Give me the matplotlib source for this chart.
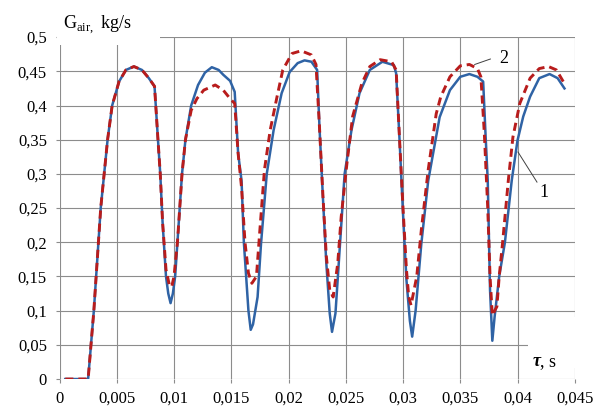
import matplotlib.pyplot as plt
from matplotlib.patches import Rectangle

# curve 1 (solid blue)
t1 = [0.0005, 0.0025, 0.0030, 0.0036, 0.0042, 0.0046, 0.0052, 0.0058, 0.0065, 0.0072, 0.0078,
      0.0083, 0.0086, 0.0088, 0.0090, 0.0093, 0.0095, 0.0097, 0.0099, 0.0101, 0.0103, 0.0105,
      0.0107, 0.0110, 0.0115, 0.0121, 0.0127, 0.0133, 0.0139, 0.0143, 0.0149, 0.0153, 0.0156,
      0.0159, 0.0161, 0.0163, 0.0165, 0.0167, 0.0169, 0.0173, 0.0176, 0.0181, 0.0187, 0.0194,
      0.0201, 0.0208, 0.0214, 0.0220, 0.0225, 0.0227, 0.0230, 0.0233, 0.0236, 0.0238, 0.0241,
      0.0245, 0.0249, 0.0255, 0.0262, 0.0271, 0.0282, 0.0292, 0.0294, 0.0297, 0.0300, 0.0303,
      0.0306, 0.0308, 0.0311, 0.0316, 0.0322, 0.0332, 0.0341, 0.0350, 0.0358, 0.0365, 0.0370,
      0.0372, 0.0374, 0.0376, 0.0378, 0.0380, 0.0384, 0.0389, 0.0395, 0.0400, 0.0405, 0.0411,
      0.0419, 0.0428, 0.0435, 0.0441]
g1 = [0, 0, 0.10, 0.25, 0.35, 0.40, 0.435, 0.452, 0.457, 0.452, 0.44,
      0.428, 0.35, 0.30, 0.23, 0.15, 0.125, 0.111, 0.125, 0.15, 0.20, 0.25,
      0.30, 0.35, 0.40, 0.43, 0.448, 0.456, 0.452, 0.445, 0.436, 0.42, 0.33,
      0.29, 0.20, 0.15, 0.10, 0.072, 0.08, 0.12, 0.198, 0.30, 0.364, 0.418,
      0.449, 0.462, 0.466, 0.464, 0.452, 0.37, 0.267, 0.17, 0.096, 0.069, 0.096,
      0.198, 0.30, 0.364, 0.418, 0.452, 0.464, 0.459, 0.447, 0.349, 0.242, 0.145,
      0.085, 0.062, 0.10, 0.198, 0.29, 0.383, 0.4225, 0.442, 0.446, 0.442, 0.435,
      0.36, 0.29, 0.13, 0.056, 0.091, 0.15, 0.20, 0.291, 0.349, 0.384, 0.413,
      0.44, 0.446, 0.44, 0.425]

# curve 2 (dashed red)
t2 = [0.0005, 0.0025, 0.0030, 0.0036, 0.0042, 0.0046, 0.0052, 0.0058, 0.0065, 0.0072, 0.0078,
      0.0083, 0.0086, 0.0088, 0.0090, 0.0093, 0.0096, 0.0098, 0.0100, 0.0103, 0.0105, 0.0107,
      0.0110, 0.0115, 0.0120, 0.0126, 0.0136, 0.0143, 0.0149, 0.0153, 0.0156, 0.0159, 0.0162,
      0.0165, 0.0168, 0.0172, 0.0175, 0.0179, 0.0184, 0.0190, 0.0195, 0.0203, 0.0211, 0.0220,
      0.0224, 0.0227, 0.0230, 0.0233, 0.0236, 0.0239, 0.0243, 0.0246, 0.0251, 0.0256, 0.0264,
      0.0271, 0.0280, 0.0290, 0.0294, 0.0297, 0.0300, 0.0303, 0.0305, 0.0307, 0.0312, 0.0316,
      0.0322, 0.0329, 0.0333, 0.0341, 0.0350, 0.0358, 0.0365, 0.0368, 0.0371, 0.0374, 0.0376,
      0.0378, 0.0382, 0.0384, 0.0387, 0.0392, 0.0396, 0.0402, 0.0411, 0.0419, 0.0427, 0.0434,
      0.0441]
g2 = [0, 0, 0.10, 0.25, 0.35, 0.40, 0.435, 0.452, 0.457, 0.452, 0.44,
      0.428, 0.35, 0.30, 0.23, 0.16, 0.137, 0.135, 0.15, 0.20, 0.25, 0.30,
      0.35, 0.393, 0.41, 0.4225, 0.43, 0.4225, 0.41, 0.403, 0.33, 0.28, 0.20,
      0.155, 0.14, 0.15, 0.218, 0.306, 0.364, 0.413, 0.452, 0.476, 0.48, 0.474,
      0.46, 0.37, 0.27, 0.18, 0.13, 0.12, 0.169, 0.237, 0.315, 0.384, 0.432,
      0.457, 0.467, 0.464, 0.452, 0.35, 0.25, 0.16, 0.12, 0.108, 0.15, 0.218,
      0.306, 0.388, 0.413, 0.442, 0.458, 0.46, 0.454, 0.442, 0.36, 0.25, 0.15,
      0.093, 0.106, 0.15, 0.20, 0.291, 0.354, 0.403, 0.44, 0.454, 0.457, 0.452,
      0.432]

x_ticks = [0, 0.005, 0.01, 0.015, 0.02, 0.025, 0.03, 0.035, 0.04, 0.045]
x_labels = ['0', '0,005', '0,01', '0,015', '0,02', '0,025', '0,03', '0,035', '0,04', '0,045']
y_ticks = [0, 0.05, 0.1, 0.15, 0.2, 0.25, 0.3, 0.35, 0.4, 0.45, 0.5]
y_labels = ['0', '0,05', '0,1', '0,15', '0,2', '0,25', '0,3', '0,35', '0,4', '0,45', '0,5']

plt.rcParams['font.family'] = 'Liberation Serif'
plt.rcParams['mathtext.fontset'] = 'custom'
plt.rcParams['mathtext.rm'] = 'Liberation Serif'

fig = plt.figure(figsize=(5.95, 4.08), dpi=100)
ax = fig.add_axes([0.1, 0.071, 0.866, 0.838])

ax.plot(t1, g1, color='#2f63a5', lw=1.8, zorder=3)
ax.plot(t2, g2, color='#b81c1c', lw=2.1, dashes=(2.8, 1.7), zorder=4)

ax.set_xlim(0, 0.045)
ax.set_ylim(0, 0.5)
ax.set_xticks(x_ticks)
ax.set_xticklabels(x_labels)
ax.set_yticks(y_ticks)
ax.set_yticklabels(y_labels)
ax.tick_params(length=3, width=0.8, color='#8c8c8c', labelsize=12)
ax.tick_params(axis='x', pad=5.5)
ax.tick_params(axis='y', pad=6)
ax.grid(True, color='#8c8c8c', lw=0.8)
ax.set_axisbelow(True)
for s in ax.spines.values():
    s.set_visible(False)

# white boxes behind the axis titles (hide grid there)
ax.add_patch(Rectangle((-0.0002, 0.488), 0.009, 0.07, facecolor='white',
                       edgecolor='none', clip_on=False, zorder=2))
ax.add_patch(Rectangle((0.0409, 0.016), 0.0048, 0.075, facecolor='white',
                       edgecolor='none', clip_on=False, zorder=2))

ax.text(0.0003, 0.513, r'G$_{\mathrm{air,}}$ kg/s', fontsize=13, ha='left',
        va='baseline', zorder=5)
ax.text(0.0420, 0.025, 'τ', fontsize=13, fontweight='bold', fontstyle='italic',
        ha='right', va='center', zorder=5)
ax.text(0.0420, 0.025, ', s', fontsize=13, ha='left', va='center', zorder=5)

# curve labels
ax.plot([0.04004, 0.0417], [0.332, 0.288], color='#404040', lw=0.7, zorder=5)
ax.text(0.0423, 0.273, '1', fontsize=13, ha='center', va='center', zorder=5)
ax.plot([0.03626, 0.03763], [0.46, 0.468], color='#404040', lw=0.7, zorder=5)
ax.text(0.0388, 0.469, '2', fontsize=13, ha='center', va='center', zorder=5)

fig.savefig('out.png', dpi=100)
